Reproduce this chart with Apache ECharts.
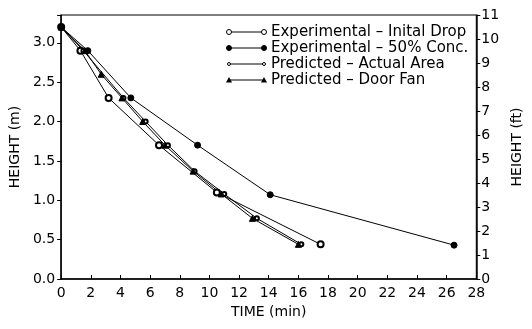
<!DOCTYPE html>
<html>
<head>
<meta charset="utf-8">
<script src="https://cdn.jsdelivr.net/npm/echarts@6/dist/echarts.min.js"></script>
<style>
  html, body { margin: 0; padding: 0; background: #fff; }
  #chart { width: 532px; height: 329px; }
</style>
</head>
<body>
<div id="chart"></div>
<script>
// time (min) and height (m)
const initialDropTime = [0, 1.3, 3.2, 6.6, 10.5, 17.5]
const initialDropHeight = [3.2, 2.9, 2.3, 1.7, 1.1, 0.44]

const halfConcTime = [0, 1.8, 4.7, 9.2, 14.1, 26.5]
const halfConcHeight = [3.2, 2.9, 2.3, 1.7, 1.07, 0.43]

const actualAreaTime = [0, 1.5, 4.2, 5.7, 7.2, 9.0, 11.0, 13.2, 16.2]
const actualAreaHeight = [3.2, 2.9, 2.3, 2.0, 1.7, 1.37, 1.08, 0.77, 0.44]

const doorFanTime = [0, 1.6, 2.7, 4.1, 5.5, 7.0, 8.9, 10.8, 12.9, 16.0]
const doorFanHeight = [3.2, 2.9, 2.6, 2.3, 2.0, 1.7, 1.37, 1.08, 0.77, 0.44]

const FT = 0.3048
const font = 'DejaVu Sans'

const seriesDefs = [
  { name: 'Experimental \u2013 Inital Drop', t: initialDropTime, h: initialDropHeight, symbol: 'emptyCircle', size: 6 },
  { name: 'Experimental \u2013 50% Conc.', t: halfConcTime, h: halfConcHeight, symbol: 'circle', size: 6 },
  { name: 'Predicted \u2013 Actual Area', t: actualAreaTime, h: actualAreaHeight, symbol: 'emptyCircle', size: 4 },
  { name: 'Predicted \u2013 Door Fan', t: doorFanTime, h: doorFanHeight, symbol: 'triangle', size: 6 }
]

function zip (a, b) {
  return a.map((v, i) => [v, b[i]])
}

// legend rows: marker - line - marker, then text
function legendGraphics () {
  const out = []
  const x0 = 229
  const x1 = 264
  seriesDefs.forEach((s, i) => {
    const y = 32 + i * 16
    out.push({ type: 'line', shape: { x1: x0, y1: y, x2: x1, y2: y }, style: { stroke: '#000', lineWidth: 1 } })
    ;[x0, x1].forEach(x => {
      if (s.symbol === 'triangle') {
        out.push({ type: 'polygon', shape: { points: [[x, y - 3], [x - 3, y + 2.5], [x + 3, y + 2.5]] }, style: { fill: '#000' } })
      } else {
        const empty = s.symbol === 'emptyCircle'
        out.push({
          type: 'circle',
          shape: { cx: x, cy: y, r: s.size / 2 - 0.5 },
          style: { fill: empty ? '#fff' : '#000', stroke: '#000', lineWidth: 1 }
        })
      }
    })
    out.push({
      type: 'text',
      x: 271,
      y: y,
      style: { text: s.name, font: '15px "' + font + '"', fill: '#000', verticalAlign: 'middle' }
    })
  })
  return out
}

const chart = echarts.init(document.getElementById('chart'), null, { renderer: 'canvas' })

const labelStyle = { color: '#000', fontFamily: font, fontSize: 14 }
const nameStyle = { color: '#000', fontFamily: font, fontSize: 14 }

chart.setOption({
  animation: false,
  backgroundColor: '#fff',
  grid: { left: 59, right: 49, top: 15, bottom: 50, show: true, borderColor: '#000', borderWidth: 1 },
  xAxis: {
    type: 'value',
    min: 0,
    max: 28,
    interval: 2,
    name: 'TIME (min)',
    nameLocation: 'middle',
    nameGap: 25,
    nameTextStyle: nameStyle,
    axisLine: { lineStyle: { color: '#000', width: 1.5 } },
    axisTick: { inside: true, length: 4, lineStyle: { color: '#000' } },
    axisLabel: { ...labelStyle, margin: 7 },
    splitLine: { show: false }
  },
  yAxis: [
    {
      type: 'value',
      min: 0,
      max: 11 * FT,
      interval: 0.5,
      name: 'HEIGHT (m)',
      nameLocation: 'middle',
      nameGap: 36,
      nameTextStyle: nameStyle,
      axisLine: { show: true, lineStyle: { color: '#000', width: 1.5 } },
      axisTick: { show: true, length: 4, lineStyle: { color: '#000' } },
      axisLabel: { ...labelStyle, margin: 6, formatter: v => (v > 3.1 ? '' : v.toFixed(1)) },
      splitLine: { show: false }
    },
    {
      type: 'value',
      position: 'right',
      min: 0,
      max: 11,
      interval: 1,
      name: 'HEIGHT (ft)',
      nameLocation: 'middle',
      nameGap: 27,
      nameRotate: 90,
      nameTextStyle: nameStyle,
      axisLine: { show: true, lineStyle: { color: '#000', width: 1.5 } },
      axisTick: { show: true, length: 4, lineStyle: { color: '#000' } },
      axisLabel: { ...labelStyle, margin: 5 },
      splitLine: { show: false }
    }
  ],
  series: seriesDefs.map(s => ({
    name: s.name,
    type: 'line',
    yAxisIndex: 0,
    data: zip(s.t, s.h),
    symbol: s.symbol,
    symbolSize: s.size,
    showAllSymbol: true,
    lineStyle: { color: '#000', width: 1 },
    itemStyle: { color: '#000', borderColor: '#000', borderWidth: 1 }
  })),
  graphic: legendGraphics()
})
</script>
</body>
</html>
